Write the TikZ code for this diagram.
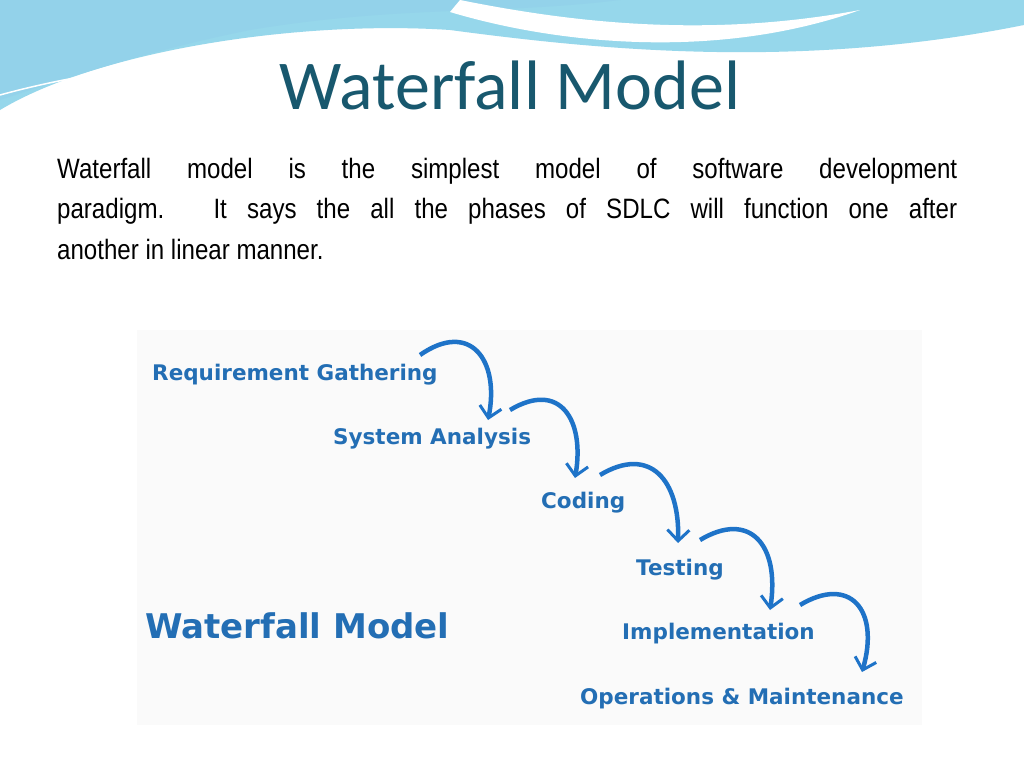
\documentclass[tikz,border=0pt]{standalone}
\usepackage{fontspec}
\setmainfont{Carlito}
\newfontfamily\bodyfont[FakeStretch=0.86]{Liberation Sans}
\newfontfamily\labfont{DejaVu Sans}
\usetikzlibrary{arrows.meta}
\definecolor{titlec}{RGB}{24,88,110}
\definecolor{labc}{RGB}{35,110,180}
\definecolor{arrc}{RGB}{30,115,200}
\definecolor{wave1}{RGB}{150,215,235}
\definecolor{wave2}{RGB}{100,190,225}
\tikzset{
 lab/.style={font=\labfont\bfseries\fontsize{21.5}{24}\selectfont, text=labc, anchor=west, inner sep=0},
 flow/.style={draw=arrc, line width=4.5pt, -{Straight Barb[length=11pt,width=22pt,line width=3pt]}},
}
\begin{document}
\begin{tikzpicture}[x=1pt,y=-1pt]
\useasboundingbox (0,0) rectangle (1024,768);
\fill[white] (0,0) rectangle (1024,768);
% header waves
\fill[wave1] (0,0) -- (1024,0) -- (1024,25) .. controls (800,70) and (600,50) .. (450,30) .. controls (300,20) and (100,50) .. (0,110) -- cycle;
\fill[wave2!70] (0,0) -- (620,0) .. controls (500,15) and (400,5) .. (250,30) .. controls (150,50) and (60,80) .. (0,100) -- cycle;
\fill[white] (460,0) .. controls (560,20) and (700,40) .. (860,10) .. controls (720,60) and (560,45) .. (450,12) -- cycle;
\draw[white, line width=1.5pt] (0,95) .. controls (200,40) and (450,50) .. (1024,75);
\node[font=\fontsize{70}{72}\selectfont, text=titlec] (title) at (510,85) {Waterfall Model};
\node[font=\bodyfont\fontsize{28}{40.5}\selectfont, text width=900pt, align=justify, anchor=north west, inner sep=0] (body) at (57,158)
 {Waterfall model is the simplest model of software development\linebreak paradigm. It says the all the phases of SDLC will function one after\linebreak another in linear manner.};
% diagram panel
\fill[gray!4] (137,330) rectangle (922,725);
\node[lab] (r) at (152,375) {Requirement Gathering};
\node[lab] (s) at (333,439) {System Analysis};
\node[lab] (c) at (541,503) {Coding};
\node[lab] (t) at (636,570) {Testing};
\node[lab] (i) at (622,634) {Implementation};
\node[lab] (o) at (580,699) {Operations \& Maintenance};
\node[font=\labfont\bfseries\fontsize{34}{36}\selectfont, text=labc, anchor=west, inner sep=0] (wm) at (145,626) {Waterfall Model};
\draw[flow] (420,355) .. controls (470,320) and (500,360) .. (488,420);
\draw[flow] (510,410) .. controls (560,380) and (585,420) .. (575,478);
\draw[flow] (600,475) .. controls (650,445) and (680,480) .. (678,543);
\draw[flow] (700,540) .. controls (750,510) and (780,545) .. (770,610);
\draw[flow] (800,605) .. controls (850,575) and (880,610) .. (862,672);
\end{tikzpicture}
\end{document}
